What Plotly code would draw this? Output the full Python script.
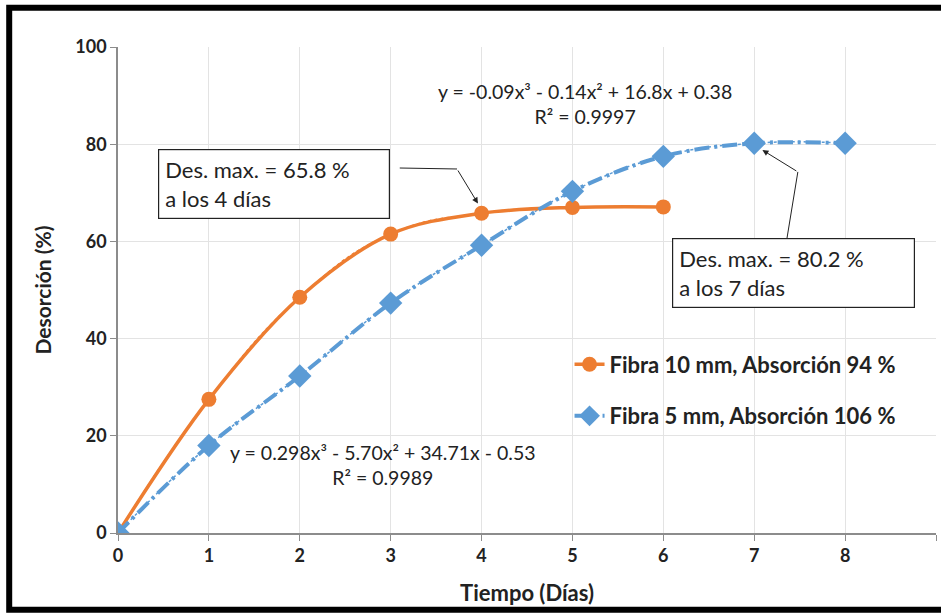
import plotly.graph_objects as go

dias_10 = [0, 1, 2, 3, 4, 5, 6]
des_10 = [0, 27.5, 48.5, 61.5, 65.8, 67.0, 67.1]
dias_5 = [0, 1, 2, 3, 4, 5, 6, 7, 8]
des_5 = [0, 18.0, 32.3, 47.3, 59.2, 70.3, 77.5, 80.2, 80.2]

name_10 = "Fibra 10 mm, Absorción 94 %"
name_5 = "Fibra 5 mm, Absorción 106 %"
orange = "#ED7D31"
blue = "#5B9BD5"
FONT = "Lato"

fig = go.Figure()
# trend-like dotted lines
fig.add_trace(go.Scatter(x=dias_10, y=des_10, mode="lines", showlegend=False,
                         line=dict(color=orange, width=1.5, dash="dot", shape="spline", smoothing=1.3)))
fig.add_trace(go.Scatter(x=dias_5, y=des_5, mode="lines", showlegend=False,
                         line=dict(color=blue, width=1.5, dash="dot", shape="spline", smoothing=1.3)))
fig.add_trace(go.Scatter(x=dias_10, y=des_10, mode="lines+markers", name=name_10, legendgroup="a",
                         line=dict(color=orange, width=3.5, shape="spline"),
                         marker=dict(symbol="circle", size=15, color=orange)))
fig.add_trace(go.Scatter(x=dias_5, y=des_5, mode="lines+markers", name=name_5, legendgroup="b",
                         line=dict(color=blue, width=4, shape="spline", dash="15px,5px,3px,5px"),
                         marker=dict(symbol="diamond", size=18, color=blue)))

ann_font = dict(family=FONT, size=22, color="#222")
annotations = [
    dict(x=0.44, y=71.8, xref="x", yref="y", text="Des. max. = 65.8 %<br>a los 4 días",
         showarrow=False, align="left", font=ann_font, bordercolor="#222", borderwidth=1.2,
         borderpad=6, bgcolor="white", xanchor="left", yanchor="middle", width=218),
    dict(x=3.96, y=67.8, ax=3.73, ay=74.9, xref="x", yref="y", axref="x", ayref="y",
         text="", showarrow=True, arrowhead=2, arrowsize=1.2, arrowwidth=1, arrowcolor="#222"),
    dict(x=6.1, y=53.4, xref="x", yref="y", text="Des. max. = 80.2 %<br>a los 7 días",
         showarrow=False, align="left", font=ann_font, bordercolor="#222", borderwidth=1.2,
         borderpad=6, bgcolor="white", xanchor="left", yanchor="middle", width=229),
    dict(x=7.09, y=78.8, ax=7.48, ay=74.3, xref="x", yref="y", axref="x", ayref="y",
         text="", showarrow=True, arrowhead=2, arrowsize=1.2, arrowwidth=1, arrowcolor="#222"),
    dict(x=5.14, y=88.3, xref="x", yref="y", text="y = -0.09x³ - 0.14x² + 16.8x + 0.38<br>R² = 0.9997",
         showarrow=False, align="center", font=dict(family=FONT, size=19.5, color="#222")),
    dict(x=2.92, y=14.0, xref="x", yref="y", text="y = 0.298x³ - 5.70x² + 34.71x - 0.53<br>R² = 0.9989",
         showarrow=False, align="center", font=dict(family=FONT, size=19.5, color="#222")),
]

shapes = [
    dict(type="line", xref="x", yref="y", x0=3.10, y0=75.1, x1=3.73, y1=74.9,
         line=dict(color="#222", width=1)),
    dict(type="line", xref="x", yref="y", x0=7.48, y0=74.3, x1=7.36, y1=60.6,
         line=dict(color="#222", width=1)),
    dict(type="rect", xref="paper", yref="paper", x0=-0.133, x1=1.02, y0=-0.158, y1=1.081,
         line=dict(color="black", width=6), layer="above"),
]

fig.update_layout(
    width=941, height=615,
    margin=dict(l=118, r=5, t=47, b=82),
    plot_bgcolor="white", paper_bgcolor="white",
    font=dict(family=FONT, color="#222"),
    annotations=annotations, shapes=shapes,
    legend=dict(x=0.552, y=0.39, xanchor="left", yanchor="top",
                font=dict(family=FONT, size=22, color="#222", weight="bold"),
                bgcolor="rgba(0,0,0,0)", tracegroupgap=20, itemwidth=30),
    xaxis=dict(range=[0, 9], dtick=1, showgrid=True, gridcolor="#e3e3e3", gridwidth=1,
               showline=True, linecolor="#8c8c8c", linewidth=1.5, ticks="outside", ticklen=6,
               tickcolor="#8c8c8c", zeroline=False,
               tickfont=dict(family=FONT, size=18, color="#222", weight="bold"),
               title=dict(text="Tiempo (Días)", font=dict(family=FONT, size=22, color="#222", weight="bold"),
                          standoff=20)),
    yaxis=dict(range=[0, 100], dtick=20, showgrid=True, gridcolor="#e3e3e3", gridwidth=1,
               showline=True, linecolor="#8c8c8c", linewidth=1.5, ticks="outside", ticklen=6,
               tickcolor="#8c8c8c", zeroline=False,
               tickfont=dict(family=FONT, size=18, color="#222", weight="bold"),
               title=dict(text="Desorción (%)", font=dict(family=FONT, size=21, color="#222", weight="bold"),
                          standoff=18)),
)

fig.write_html("out.html")
